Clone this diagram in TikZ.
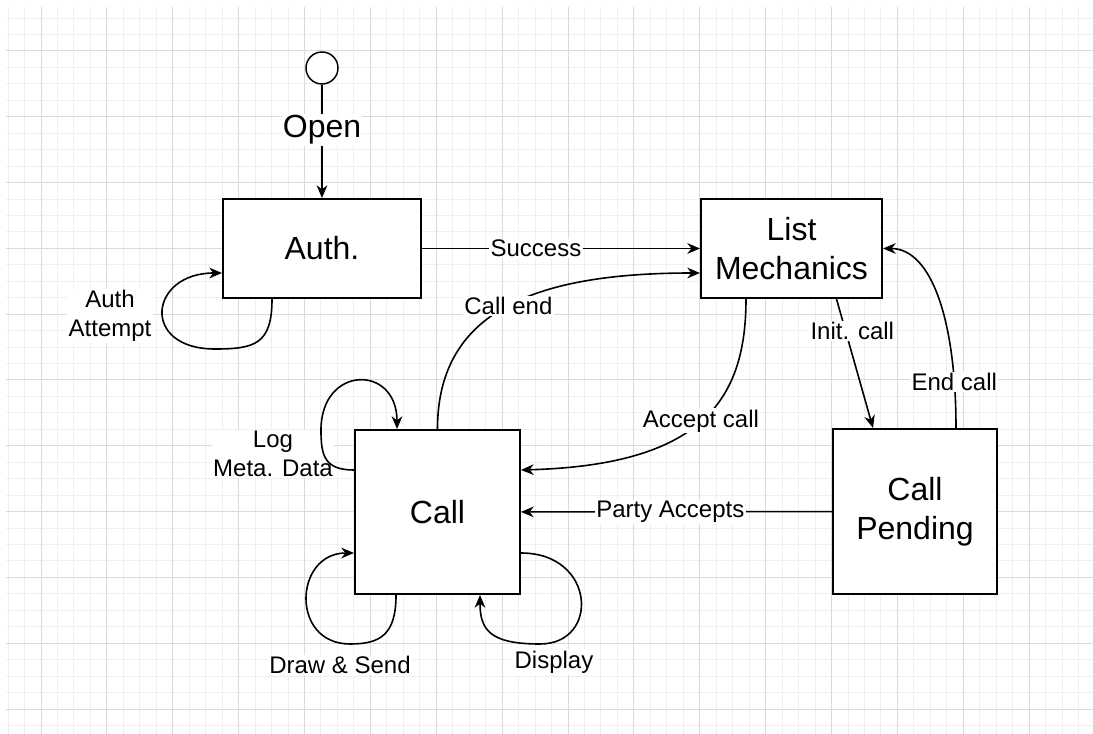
\documentclass[tikz,border=0pt]{standalone}
\usepackage{fontspec}
\setmainfont{Liberation Sans}
\usetikzlibrary{arrows.meta,calc}
\definecolor{gridmin}{HTML}{EFEFEF}
\definecolor{gridmaj}{HTML}{DADADA}

\begin{document}
\begin{tikzpicture}[x=0.75pt,y=-0.75pt,
    >={Stealth[length=9.5pt,width=8pt,inset=3pt]},
    box/.style={draw,line width=1.5pt,fill=white,inner sep=0pt,align=center,font=\fontsize{24}{29}\selectfont},
    lbl/.style={fill=white,inner sep=1pt,align=center,font=\fontsize{18}{21.75}\selectfont},
    edge/.style={line width=1.2pt}]
  \useasboundingbox (0,0) rectangle (1093,734);
  % background grid
  \begin{scope}
    \clip (6,7) rectangle (1093,734);
    \foreach \k in {-2,...,63}
      \draw[gridmin,line width=0.75pt] ({41+16.47*\k},7) -- ({41+16.47*\k},734);
    \foreach \k in {-2,...,41}
      \draw[gridmin,line width=0.75pt] (6,{51+16.45*\k}) -- (1093,{51+16.45*\k});
    \foreach \k in {0,...,15}
      \draw[gridmaj,line width=0.75pt] ({41+65.88*\k},7) -- ({41+65.88*\k},734);
    \foreach \k in {0,...,10}
      \draw[gridmaj,line width=0.75pt] (6,{51+65.8*\k}) -- (1093,{51+65.8*\k});
  \end{scope}

  % states
  \node[draw,circle,line width=1.1pt,minimum size=24pt,fill=white] (st) at (322,68) {};
  \node[box,minimum width=148.5pt,minimum height=74.25pt] (au) at (322,248.5) {Auth.};
  \node[box,minimum width=135.75pt,minimum height=74.25pt] (lm) at (791.5,248.5) {List\\Mechanics};
  \node[box,minimum width=123.75pt,minimum height=123pt] (ca) at (437.5,512) {Call};
  \node[box,minimum width=123pt,minimum height=123.75pt] (cp) at (915,511.5) {Call\\Pending};

  % transitions
  \draw[edge,->] (st) -- node[lbl,pos=0.4,font=\fontsize{24}{29}\selectfont] {Open} (au);
  \draw[edge,->] (au) -- node[lbl,pos=0.41] {Success} (lm);
  \draw[edge,->] (ca.north) .. controls +(0,-120) and +(-161,0) .. node[lbl,pos=0.5] {Call end} ($(lm.west)+(0,24.5)$);
  \draw[edge,->] ($(lm.south)+(-45.5,0)$) .. controls +(0,102) and +(180,-5) .. node[lbl,pos=0.5] {Accept call} ($(ca.east)+(0,-42)$);
  \draw[edge,->] ($(lm.south)+(45,0)$) -- node[lbl,pos=0.25,xshift=5pt] {Init. call} ($(cp.north)+(-42,0)$);
  \draw[edge,->] ($(cp.north)+(41,0)$) .. controls +(0,-109) and +(48,0) .. node[lbl,pos=0.15] {End call} (lm.east);
  \draw[edge,->] (cp) -- node[lbl,pos=0.52] {Party Accepts} (ca);

  % self loops
  \node[lbl] (aa) at (110,316) {Auth\\Attempt};
  \draw[edge,->] ($(au.south)+(-50,0)$) .. controls +(0,45) and +(40,0) .. ($(au.south)+(-107,50)$)
    .. controls +(-75,0) and +(-73,0) .. ($(au.west)+(0,24.5)$);
  \node[lbl] (lg) at (273,454) {Log\\Meta. Data};
  \draw[edge,->] ($(ca.west)+(0,-42)$) .. controls +(-30,0) and +(0,25) .. ($(ca.west)+(-33,-82)$)
    .. controls +(0,-65) and +(0,-65) .. ($(ca.north)+(-40.5,0)$);
  \node[lbl] (ds) at (340,665) {Draw \& Send};
  \draw[edge,->] ($(ca.south)+(-41.5,0)$) .. controls +(0,40) and +(30,0) .. ($(ca.south)+(-87.5,49)$)
    .. controls +(-60,0) and +(-60,0) .. ($(ca.west)+(0,41)$);
  \node[lbl] (dp) at (554,662) {Display};
  \draw[edge,->] ($(ca.east)+(0,41)$) .. controls +(75,0) and +(60,0) .. ($(ca.south)+(102.5,49)$)
    .. controls +(-50,0) and +(0,35) .. ($(ca.south)+(42.5,0)$);
\end{tikzpicture}
\end{document}
